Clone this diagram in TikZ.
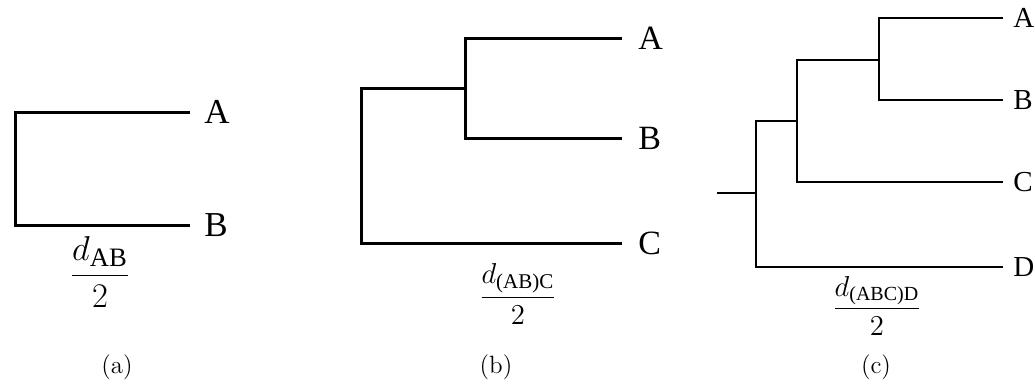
\documentclass[tikz,border=0pt]{standalone}
\usepackage{amsmath}
\usepackage{fontspec}
\newfontfamily\scanfont{Liberation Serif}
\usetikzlibrary{calc}

\begin{document}
\begin{tikzpicture}[x=0.5pt, y=-0.5pt,
    branch/.style={line width=1.5pt},
    twig/.style={line width=1.2pt},
    taxon/.style={anchor=west, inner ysep=0pt, inner xsep=#1},
    caption/.style={font=\fontsize{12.5}{14}\selectfont}]
  \useasboundingbox (0,0) rectangle (1035,388);
  % (a) two taxa
  \begin{scope}[font=\scanfont\fontsize{17.5}{19}\selectfont]
    \coordinate (aR) at (15,168);
    \node[taxon=7pt] (aA) at (190,112) {A};
    \node[taxon=7pt] (aB) at (190,225) {B};
    \draw[branch] (aA) -| (aR) |- (aB);
    \node (aDist) at (100,272)
      {\fontsize{19}{21}\selectfont$\dfrac{d_{\text{AB}}}{2}$};
  \end{scope}
  % (b) AB joined first, then C
  \begin{scope}[font=\scanfont\fontsize{17}{19}\selectfont]
    \coordinate (bAB) at (465,88);
    \coordinate (bR) at (361,166);
    \node[taxon=8pt] (bA) at (622,38) {A};
    \node[taxon=8pt] (bB) at (622,138) {B};
    \node[taxon=8pt] (bC) at (622,243) {C};
    \draw[branch] (bA) -| (bAB) |- (bB);
    \draw[branch] (bAB) -| (bR) |- (bC);
    \node (bDist) at (518,294)
      {\fontsize{15}{17}\selectfont$\dfrac{d_{\text{(AB)C}}}{2}$};
  \end{scope}
  % (c) four taxa with root
  \begin{scope}[font=\scanfont\fontsize{14.5}{16}\selectfont]
    \coordinate (cS) at (717,193);
    \coordinate (cR) at (756,193);
    \coordinate (cABC) at (797,121);
    \coordinate (cAB) at (879,60);
    \node[taxon=5pt] (cA) at (1003,18) {A};
    \node[taxon=5pt] (cB) at (1003,100) {B};
    \node[taxon=5pt] (cC) at (1003,182) {C};
    \node[taxon=5pt] (cD) at (1003,267) {D};
    \draw[twig] (cA) -| (cAB) |- (cB);
    \draw[twig] (cAB) -| (cABC) |- (cC);
    \draw[twig] (cABC) -| (cR) |- (cD);
    \draw[twig] (cS) -- (cR);
    \node (cDist) at (877,306)
      {\fontsize{14.4}{16}\selectfont$\dfrac{d_{\text{(ABC)D}}}{2}$};
  \end{scope}
  % captions
  \node[caption] (capA) at (117,367) {(a)};
  \node[caption] (capB) at (496,367) {(b)};
  \node[caption] (capC) at (876,367) {(c)};
\end{tikzpicture}
\end{document}
